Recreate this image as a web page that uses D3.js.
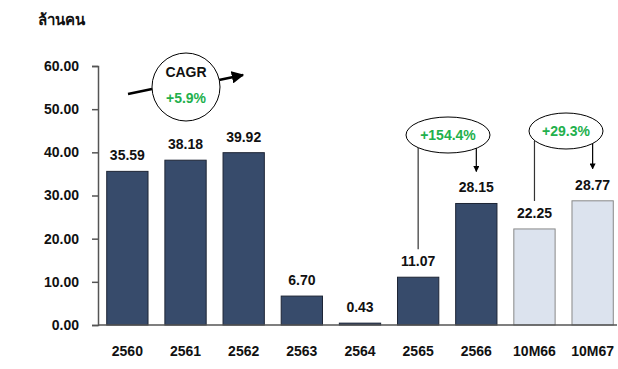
<!DOCTYPE html>
<html><head><meta charset="utf-8">
<script src="https://cdn.jsdelivr.net/npm/d3@7"></script>
<style>
body{margin:0;background:#fff;}
text{font-family:"Liberation Sans",Arial,"Noto Sans",sans-serif;font-weight:bold;}
</style></head><body>
<svg id="c" width="618" height="369"></svg>
<script>
const categories = ["2560","2561","2562","2563","2564","2565","2566","10M66","10M67"];
const values = [35.59,38.18,39.92,6.70,0.43,11.07,28.15,22.25,28.77];
const partial = [false,false,false,false,false,false,false,true,true];
const yTicks = [0,10,20,30,40,50,60];
const unitLabel = "ล้านคน";
const cagrLabel = "CAGR";
const cagrValue = "+5.9%";
const growth = [{from:"2565",to:"2566",label:"+154.4%"},{from:"10M66",to:"10M67",label:"+29.3%"}];

const svg = d3.select("#c");
const x = d3.scaleBand().domain(categories).range([98,622]).paddingInner(0.29).paddingOuter(0.15);
const y = d3.scaleLinear().domain([0,60]).range([325,66]);

svg.append("defs").append("marker").attr("id","ah").attr("viewBox","0 0 10 10")
  .attr("refX",9).attr("refY",5).attr("markerWidth",5).attr("markerHeight",5).attr("orient","auto")
  .append("path").attr("d","M0,0L10,5L0,10z").attr("fill","#000");

// y axis
const ya = svg.append("g").attr("transform","translate(98,0)")
  .call(d3.axisLeft(y).tickValues(yTicks).tickFormat(d3.format(".2f")).tickSize(6).tickPadding(13));
ya.select(".domain").attr("stroke","#555").attr("stroke-width",1.5);
ya.selectAll(".tick line").attr("stroke","#555").attr("stroke-width",1.5);
ya.selectAll(".tick text").attr("font-size",14).attr("fill","#111").style("font-family","'Liberation Sans',Arial,sans-serif").style("font-weight","bold");

// bars
svg.selectAll("rect.bar").data(categories).join("rect").attr("class","bar")
  .attr("x",d=>x(d)).attr("width",x.bandwidth())
  .attr("y",(d,i)=>y(values[i])).attr("height",(d,i)=>y(0)-y(values[i]))
  .attr("fill",(d,i)=>partial[i]?"#dce3ee":"#374b6b")
  .attr("stroke",(d,i)=>partial[i]?"#888":"#1d2535").attr("stroke-width",1);

// x axis
svg.append("line").attr("x1",98).attr("x2",617).attr("y1",y(0)).attr("y2",y(0)).attr("stroke","#555").attr("stroke-width",1.5);
svg.selectAll("text.cat").data(categories).join("text").attr("class","cat")
  .attr("x",d=>x(d)+x.bandwidth()/2).attr("y",356).attr("text-anchor","middle")
  .attr("font-size",14).attr("fill","#111").text(d=>d);

// value labels
svg.selectAll("text.val").data(categories).join("text").attr("class","val")
  .attr("x",d=>x(d)+x.bandwidth()/2).attr("y",(d,i)=>y(values[i])-11).attr("text-anchor","middle")
  .attr("font-size",14).attr("fill","#111").text((d,i)=>values[i].toFixed(2));

// unit
svg.append("text").attr("x",38).attr("y",25).attr("font-size",15).attr("fill","#111").text(unitLabel);

// CAGR circle
const cx=186, cy=87;
svg.append("line").attr("x1",128).attr("y1",94).attr("x2",cx-34).attr("y2",89).attr("stroke","#000").attr("stroke-width",2.5);
svg.append("line").attr("x1",cx+33).attr("y1",80).attr("x2",243).attr("y2",75).attr("stroke","#000").attr("stroke-width",2.5).attr("marker-end","url(#ah)");
svg.append("circle").attr("cx",cx).attr("cy",cy).attr("r",34).attr("fill","#fff").attr("stroke","#000").attr("stroke-width",1);
svg.append("text").attr("x",cx).attr("y",77).attr("text-anchor","middle").attr("font-size",14).attr("fill","#111").text(cagrLabel);
svg.append("text").attr("x",cx).attr("y",103).attr("text-anchor","middle").attr("font-size",14).attr("fill","#22b04c").text(cagrValue);

// growth ellipses
growth.forEach((g,k)=>{
  const fi = categories.indexOf(g.from), ti = categories.indexOf(g.to);
  const lx = x(g.from)+x.bandwidth()/2, rx = x(g.to)+x.bandwidth()/2;
  const ecx = k===0?448:566, ecy = k===0?135:131, erx = k===0?42:37, ery=18;
  svg.append("line").attr("x1",lx).attr("x2",lx).attr("y1",ecy+10).attr("y2",y(values[fi])-28).attr("stroke","#333").attr("stroke-width",1.2);
  svg.append("line").attr("x1",rx).attr("x2",rx).attr("y1",ecy+10).attr("y2",y(values[ti])-32).attr("stroke","#000").attr("stroke-width",1.2).attr("marker-end","url(#ah)");
  svg.append("ellipse").attr("cx",ecx).attr("cy",ecy).attr("rx",erx).attr("ry",ery).attr("fill","#fff").attr("stroke","#000").attr("stroke-width",1);
  svg.append("text").attr("x",ecx).attr("y",ecy+5).attr("text-anchor","middle").attr("font-size",14).attr("fill","#22b04c").text(g.label);
});
</script></body></html>
